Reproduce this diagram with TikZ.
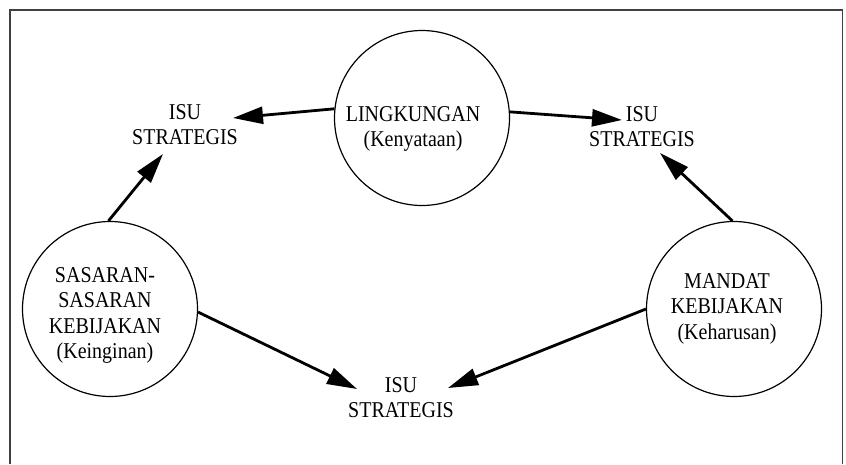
\documentclass[tikz,border=0pt]{standalone}
\usepackage{fontspec}
\usepackage{graphicx}
\setmainfont{Liberation Serif}
\usetikzlibrary{arrows.meta}
\newcommand{\vst}[1]{\scalebox{1}[1.13]{\begin{tabular}[t]{@{}c@{}}#1\end{tabular}}}
\begin{document}
\begin{tikzpicture}[x=1pt,y=-1pt,
  circ/.style={circle,draw,line width=1.2pt,minimum size=175pt,inner sep=0pt},
  lbl/.style={anchor=base,inner sep=0pt,font=\fontsize{20}{22.7}\selectfont},
  arr/.style={line width=2.8pt,-{Triangle[length=30pt,width=17pt]}},
  frame/.style={line width=1.6pt,black!75}
]
\useasboundingbox (0,0) rectangle (846,464);
\draw[frame] (10,464) -- (10,10) -- (842.5,10) -- (842.5,464);

% circles
\node[circ] (cTop) at (422,118) {};
\node[circ] (cLeft) at (110,309) {};
\node[circ] (cRight) at (734,309) {};

% circle texts
\node[lbl] (tTop) at (413,121) {\vst{LINGKUNGAN\\(Kenyataan)}};
\node[lbl] (tLeft) at (105,282) {\vst{SASARAN-\\SASARAN\\KEBIJAKAN\\(Keinginan)}};
\node[lbl] (tRight) at (727,288) {\vst{MANDAT\\KEBIJAKAN\\(Keharusan)}};

% issue labels
\node[lbl] (isuTL) at (185,119) {\vst{ISU\\STRATEGIS}};
\node[lbl] (isuTR) at (642,121) {\vst{ISU\\STRATEGIS}};
\node[lbl] (isuB) at (401,392) {\vst{ISU\\STRATEGIS}};

% arrow tips
\coordinate (pTL1) at (233,118);
\coordinate (pTL2) at (163,154);
\coordinate (pTR1) at (622,120);
\coordinate (pTR2) at (660,153);
\coordinate (pB1) at (357,389);
\coordinate (pB2) at (448,388);

\draw[arr] (cTop.174.7) -- (pTL1);
\draw[arr] (cTop.4.5) -- (pTR1);
\draw[arr] (cLeft.91.3) -- (pTL2);
\draw[arr] (cRight.91.3) -- (pTR2);
\draw[arr] (cLeft.-2.6) -- (pB1);
\draw[arr] (cRight.180) -- (pB2);
\end{tikzpicture}
\end{document}
